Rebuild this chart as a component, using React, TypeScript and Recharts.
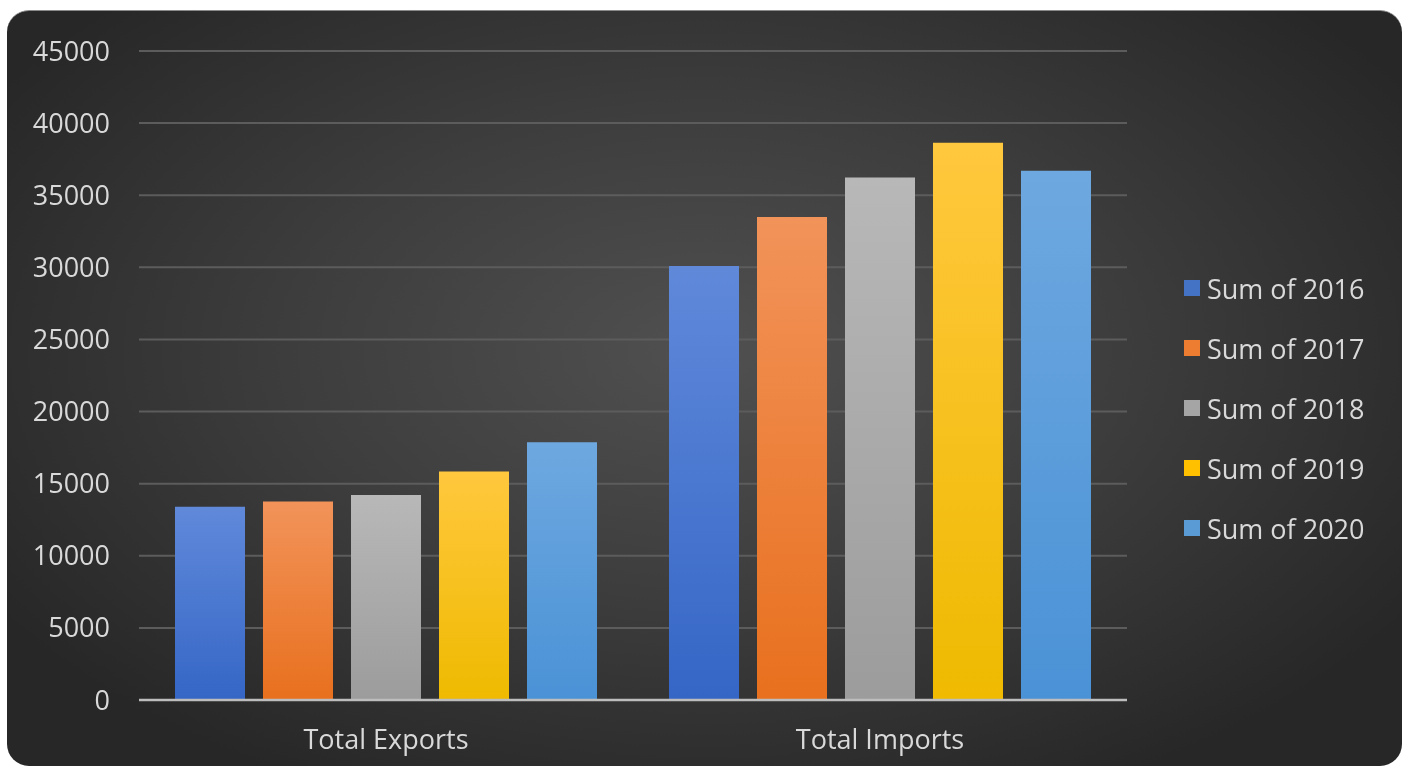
import { BarChart, Bar, XAxis, YAxis, CartesianGrid } from 'recharts'

// ── Data ──────────────────────────────────────────────────────────────────────
const categories = ['Total Exports', 'Total Imports']
const years = ['2016', '2017', '2018', '2019', '2020']
const sum2016 = [13400, 30090]
const sum2017 = [13770, 33490]
const sum2018 = [14210, 36230]
const sum2019 = [15850, 38630]
const sum2020 = [17870, 36690]
const yTicks = [0, 5000, 10000, 15000, 20000, 25000, 30000, 35000, 40000, 45000]

const seriesValues = [sum2016, sum2017, sum2018, sum2019, sum2020]

// top / bottom colours of each bar gradient
const palette = [
  { top: '#6089da', bottom: '#3566c6', swatch: '#4472C4' },
  { top: '#f2935a', bottom: '#e8701e', swatch: '#ED7D31' },
  { top: '#b8b8b8', bottom: '#9c9c9c', swatch: '#A5A5A5' },
  { top: '#ffc83e', bottom: '#efba00', swatch: '#FFC000' },
  { top: '#6ea8e0', bottom: '#4a92d6', swatch: '#5B9BD5' },
]

const data = categories.map((name, i) => {
  const row: Record<string, string | number> = { name }
  years.forEach((y, k) => {
    row[`y${y}`] = seriesValues[k][i]
  })
  return row
})

const FONT = "'Open Sans', 'Noto Sans', sans-serif"
const TEXT = '#d9d9d9'

export default function App() {
  return (
    <div
      style={{
        position: 'fixed',
        left: 7,
        top: 10,
        width: 1395,
        height: 756,
        borderRadius: 22,
        overflow: 'hidden',
        background:
          'radial-gradient(ellipse 60% 65% at 50% 45%, #505050 0%, #3d3d3d 50%, #272727 100%)',
        borderTop: '1px solid #8a8a8a',
        boxSizing: 'border-box',
      }}
    >
      <BarChart
        width={1395}
        height={756}
        data={data}
        margin={{ top: 40, right: 275, left: 0, bottom: 0 }}
        barGap={18}
        barSize={70}
      >
        <defs>
          {palette.map((c, i) => (
            <linearGradient key={i} id={`grad${i}`} x1="0" y1="0" x2="0" y2="1">
              <stop offset="0%" stopColor={c.top} />
              <stop offset="100%" stopColor={c.bottom} />
            </linearGradient>
          ))}
        </defs>
        <CartesianGrid vertical={false} stroke="#5c5c5c" strokeWidth={2} />
        <XAxis
          dataKey="name"
          height={67}
          tickSize={0}
          tickMargin={30}
          axisLine={{ stroke: '#bdbdbd', strokeWidth: 2.5 }}
          tick={{ fill: TEXT, fontSize: 27, fontFamily: FONT }}
        />
        <YAxis
          width={132}
          domain={[0, 45000]}
          ticks={yTicks}
          interval={0}
          tickSize={0}
          tickMargin={29}
          axisLine={false}
          tick={{ fill: TEXT, fontSize: 27, fontFamily: FONT }}
        />
        {years.map((y, i) => (
          <Bar
            key={y}
            dataKey={`y${y}`}
            name={`Sum of ${y}`}
            fill={`url(#grad${i})`}
            isAnimationActive={false}
          />
        ))}
      </BarChart>

      {/* legend */}
      <div
        style={{
          position: 'absolute',
          left: 1177,
          top: 247,
          fontFamily: FONT,
          fontSize: 27,
          color: TEXT,
        }}
      >
        {years.map((y, i) => (
          <div key={y} style={{ display: 'flex', alignItems: 'center', height: 60 }}>
            <span
              style={{
                display: 'inline-block',
                width: 16,
                height: 16,
                background: palette[i].swatch,
                marginRight: 7,
              }}
            />
            Sum of {y}
          </div>
        ))}
      </div>
    </div>
  )
}
